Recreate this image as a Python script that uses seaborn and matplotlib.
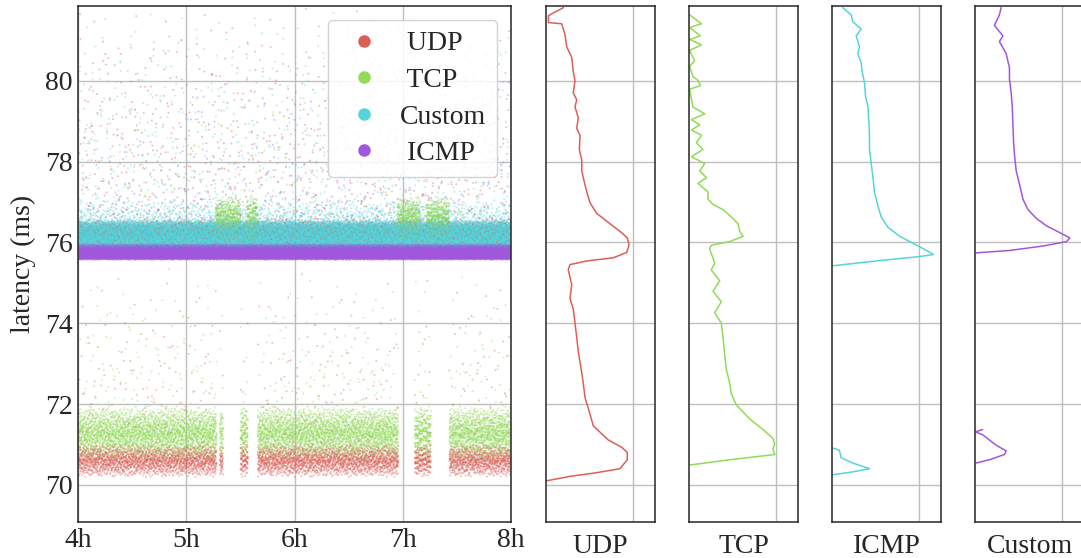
import matplotlib
matplotlib.use("Agg")
import matplotlib.pyplot as plt
import numpy as np
import pandas as pd
import seaborn as sns
from matplotlib.lines import Line2D

PROTOCOLS = ["UDP", "TCP", "Custom", "ICMP"]
LEGEND_LABELS = [" UDP", " TCP", "Custom", " ICMP"]
HOUR_TICKS = [4, 5, 6, 7, 8]
HOUR_LABELS = ["4h", "5h", "6h", "7h", "8h"]
LATENCY_TICKS = [70, 72, 74, 76, 78, 80]

# hours where UDP/TCP run over the short (~70.7 ms) path
LOW_START = [4.0, 5.31, 5.50, 5.66, 7.11, 7.43]
LOW_END = [5.28, 5.34, 5.57, 6.96, 7.26, 8.0]
# hours where TCP jumps up to the ~76 ms path
BURST_START = [5.27, 5.56, 6.95, 7.22]
BURST_END = [5.50, 5.66, 7.16, 7.43]

# sample bands
BAND_PROTO = ["ICMP", "Custom", "UDP", "TCP", "TCP", "UDP", "Custom",
              "Custom", "UDP", "ICMP", "TCP", "UDP", "TCP"]
BAND_WINDOW = ["all", "all", "low", "low", "burst", "all", "all",
               "all", "all", "all", "all", "low", "low"]
BAND_LO = [75.56, 75.80, 70.18, 70.58, 75.95, 75.85, 76.30,
           76.30, 76.30, 75.90, 76.30, 70.80, 71.40]
BAND_HI = [75.97, 76.55, 71.02, 71.95, 77.15, 76.60, 77.10,
           81.90, 81.90, 81.90, 81.90, 75.50, 75.50]
BAND_RATE = [12000, 8000, 1600, 2200, 2600, 700, 500,
             220, 180, 120, 50, 100, 120]  # samples per hour
BAND_SHAPE = ["tri", "tri", "tri", "tri", "tri", "tri", "dec",
              "dec", "dec", "dec", "dec", "dec", "dec"]

# side panels: log10 sample count per latency bin
UDP_LAT = [81.81, 81.61, 81.44, 81.41, 81.15, 80.84, 80.58, 80.23, 80.0, 79.70,
           79.53, 79.35, 79.09, 78.82, 78.65, 78.30, 78.04, 77.77, 77.60, 77.25,
           76.98, 76.72, 76.46, 76.24, 76.11, 75.93, 75.75, 75.62, 75.54, 75.45,
           75.32, 74.96, 74.61, 74.35, 74.0, 73.65, 73.30, 73.04, 72.77, 72.51,
           72.16, 71.89, 71.46, 71.11, 70.93, 70.80, 70.62, 70.40, 70.30, 70.21,
           70.10]
UDP_LOG = [0.80, 0.11, 0.11, 0.72, 0.87, 0.95, 1.18, 1.25, 1.33, 1.25,
           1.41, 1.33, 1.48, 1.41, 1.56, 1.53, 1.64, 1.64, 1.71, 1.87,
           2.02, 2.32, 2.94, 3.47, 3.73, 3.81, 3.70, 3.09, 1.87, 1.10,
           1.02, 1.18, 1.10, 1.25, 1.33, 1.41, 1.48, 1.56, 1.64, 1.71,
           1.79, 1.94, 2.17, 2.86, 3.47, 3.73, 3.73, 3.39, 2.32, 1.10,
           0.03]

TCP_LAT = [81.63, 81.41, 81.32, 81.11, 81.02, 80.89, 80.75, 80.49, 80.36, 80.10,
           80.01, 79.88, 79.79, 79.35, 79.18, 79.04, 78.91, 78.78, 78.65, 78.47,
           78.30, 78.12, 77.95, 77.77, 77.60, 77.46, 77.25, 77.07, 76.94, 76.81,
           76.63, 76.46, 76.28, 76.15, 76.02, 75.93, 75.84, 75.49, 75.32, 75.05,
           74.79, 74.53, 74.26, 74.0, 73.65, 73.21, 72.86, 72.51, 72.25, 71.98,
           71.63, 71.37, 71.15, 71.02, 70.89, 70.75, 70.62, 70.49]
TCP_LOG = [0.03, 0.57, 0.03, 0.52, 0.03, 0.57, 0.03, 0.26, 0.03, 0.18,
           0.41, 0.52, 0.03, 0.18, 0.72, 0.11, 0.49, 0.11, 0.57, 0.34,
           0.64, 0.11, 0.72, 0.49, 0.80, 0.41, 0.87, 0.87, 1.10, 1.56,
           1.94, 2.25, 2.32, 2.48, 1.87, 1.02, 0.95, 1.18, 1.02, 1.41,
           1.10, 1.48, 1.18, 1.48, 1.56, 1.64, 1.71, 1.87, 1.94, 2.17,
           2.78, 3.39, 3.85, 3.93, 3.85, 3.93, 1.87, 0.03]

ICMP_LAT = [81.81, 81.63, 81.46, 81.28, 81.11, 80.84, 80.67, 80.45, 80.23, 79.96,
            79.61, 79.35, 79.0, 78.65, 78.30, 77.95, 77.60, 77.25, 76.89, 76.63,
            76.37, 76.15, 75.93, 75.80, 75.70, 75.65, 75.54, 75.42,
            np.nan,
            70.91, 70.86, 70.67, 70.54, 70.40, 70.32, 70.25]
ICMP_LOG = [0.49, 0.88, 0.95, 1.34, 1.11, 1.26, 1.18, 1.34, 1.38, 1.49,
            1.54, 1.65, 1.69, 1.72, 1.72, 1.80, 1.88, 1.95, 2.11, 2.26,
            2.57, 3.11, 3.88, 4.34, 4.65, 4.03, 2.03, 0.03,
            np.nan,
            0.03, 0.34, 0.42, 0.95, 1.72, 0.95, 0.03]

CUSTOM_LAT = [81.81, 81.63, 81.37, 81.11, 80.97, 80.67, 80.32, 80.05, 79.70, 79.35,
              78.91, 78.47, 78.12, 77.77, 77.42, 77.07, 76.81, 76.59, 76.41, 76.24,
              76.11, 76.02, 75.91, 75.80, 75.74,
              np.nan,
              71.37, 71.31, 71.24, 70.98, 70.84, 70.75, 70.62, 70.54]
CUSTOM_LOG = [1.20, 1.12, 0.89, 1.28, 1.12, 1.43, 1.58, 1.58, 1.66, 1.71,
              1.74, 1.77, 1.82, 1.89, 2.05, 2.20, 2.43, 2.82, 3.28, 3.89,
              4.35, 4.20, 3.12, 1.58, 0.05,
              np.nan,
              0.35, 0.03, 0.35, 0.97, 1.43, 1.35, 0.66, 0.05]

PANEL_NAMES = ["UDP", "TCP", "ICMP", "Custom"]
PANEL_LAT = [UDP_LAT, TCP_LAT, ICMP_LAT, CUSTOM_LAT]
PANEL_LOG = [UDP_LOG, TCP_LOG, ICMP_LOG, CUSTOM_LOG]

YLIM = (69.08, 81.85)
W, H = 1081, 558
FS = 20


def radical_inverse(k, base):
    # van der Corput / Halton coordinate, spreads samples evenly in [0, 1)
    k = k.copy()
    out = np.zeros(len(k))
    f = 1.0
    while np.any(k > 0):
        f /= base
        out += f * (k % base)
        k //= base
    return out


def windows(name):
    if name == "low":
        return list(zip(LOW_START, LOW_END))
    if name == "burst":
        return list(zip(BURST_START, BURST_END))
    return [(4.0, 8.0)]


def band_samples(i):
    frames = []
    for j, (t0, t1) in enumerate(windows(BAND_WINDOW[i])):
        n = int(round(BAND_RATE[i] * (t1 - t0)))
        k = np.arange(n) + 1 + 100003 * i + 9973 * j
        ut = radical_inverse(k, 2)
        u1 = radical_inverse(k, 3)
        u2 = radical_inverse(k, 5)
        if BAND_SHAPE[i] == "tri":
            q = (u1 + u2) / 2
        elif BAND_SHAPE[i] == "dec":
            q = np.minimum(u1, u2)
        else:
            q = u1
        frames.append(pd.DataFrame({
            "hour": t0 + (t1 - t0) * ut,
            "latency": BAND_LO[i] + (BAND_HI[i] - BAND_LO[i]) * q,
            "protocol": BAND_PROTO[i],
        }))
    return pd.concat(frames, ignore_index=True)


def axes_rect(x0, y0, x1, y1):
    return [x0 / W, (H - y1) / H, (x1 - x0) / W, (y1 - y0) / H]


def style_axes(ax):
    ax.set_ylim(*YLIM)
    ax.set_yticks(LATENCY_TICKS)
    for s in ax.spines.values():
        s.set_color("0.15")
        s.set_linewidth(1.1)
        s.set_visible(True)
    ax.grid(True, color="0.75", linewidth=1.0)
    ax.tick_params(length=0)


if __name__ == "__main__":
    sns.set_theme(style="whitegrid")
    plt.rcParams["font.family"] = ["Liberation Serif", "DejaVu Serif"]
    plt.rcParams["font.size"] = FS

    palette = sns.color_palette("hls", 4)
    colors = dict(zip(PROTOCOLS, palette))

    df = pd.concat([band_samples(i) for i in range(len(BAND_PROTO))],
                   ignore_index=True)
    df = df.sort_values("hour", kind="stable")

    fig = plt.figure(figsize=(W / 100, H / 100), dpi=100)
    ax = fig.add_axes(axes_rect(78, 6, 511, 522))

    sns.scatterplot(data=df, x="hour", y="latency", hue="protocol",
                    hue_order=PROTOCOLS, palette=colors, s=2, linewidth=0,
                    alpha=0.4, legend=False, ax=ax)
    style_axes(ax)
    ax.set_xlim(4, 8)
    ax.set_xticks(HOUR_TICKS)
    ax.set_xticklabels(HOUR_LABELS)
    ax.tick_params(axis="both", labelsize=FS, pad=4)
    ax.set_xlabel("")
    ax.set_ylabel("latency (ms)", fontsize=FS, labelpad=6)

    handles = [Line2D([], [], marker="o", linestyle="", markersize=8,
                      color=colors[p]) for p in PROTOCOLS]
    ax.legend(handles, LEGEND_LABELS, loc="upper right", fontsize=FS,
              labelspacing=0.4, handlelength=1.8, handletextpad=0.4,
              borderpad=0.4, framealpha=0.85, edgecolor="0.8")

    for i, name in enumerate(PANEL_NAMES):
        x0 = 546 + 143 * i
        pax = fig.add_axes(axes_rect(x0, 6, x0 + 109, 522))
        lat = np.array(PANEL_LAT[i], dtype=float)
        val = np.array(PANEL_LOG[i], dtype=float)
        breaks = np.where(np.isnan(lat))[0]
        for seg in np.split(np.arange(len(lat)), breaks):
            seg = seg[~np.isnan(lat[seg])]
            sns.lineplot(x=val[seg], y=lat[seg], sort=False, estimator=None,
                         color=palette[i], linewidth=1.1, ax=pax)
        style_axes(pax)
        pax.set_xlim(0, 5)
        pax.set_xticks([4])
        pax.set_xticklabels([])
        pax.set_yticklabels([])
        pax.set_xlabel(name, fontsize=FS, labelpad=5)
        pax.set_ylabel("")

    fig.savefig("out.png", dpi=100)
